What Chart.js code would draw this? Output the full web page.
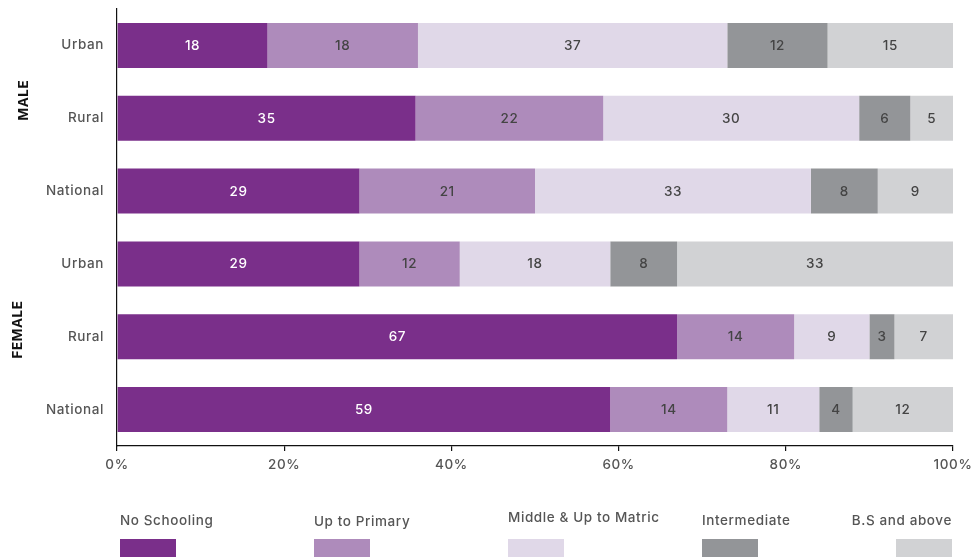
<!DOCTYPE html>
<html>
<head>
<meta charset="utf-8">
<style>
  html, body { margin: 0; padding: 0; background: #ffffff; }
  #wrap { width: 975px; height: 560px; position: relative; }
</style>
<script src="https://cdn.jsdelivr.net/npm/chart.js@4/dist/chart.umd.min.js"></script>
</head>
<body>
<div id="wrap"><canvas id="chart" width="975" height="560"></canvas></div>
<script>
// Rows, top to bottom
const categories = ['Urban', 'Rural', 'National', 'Urban', 'Rural', 'National'];
const groups = [
  { name: 'MALE', from: 0, to: 2 },
  { name: 'FEMALE', from: 3, to: 5 }
];

// Education level shares (%) per row
const seriesNames = ['No Schooling', 'Up to Primary', 'Middle & Up to Matric', 'Intermediate', 'B.S and above'];
const noSchooling   = [18, 35, 29, 29, 67, 59];
const upToPrimary   = [18, 22, 21, 12, 14, 14];
const middleMatric  = [37, 30, 33, 18,  9, 11];
const intermediate  = [12,  6,  8,  8,  3,  4];
const bsAndAbove    = [15,  5,  9, 33,  7, 12];
const xTicks = [0, 20, 40, 60, 80, 100];

const colors = ['#7a2f8a', '#ae8bbb', '#e0d8e8', '#939598', '#d1d2d4'];
const labelColors = ['#ffffff', '#444444', '#444444', '#444444', '#444444'];
const FONT = "Inter, 'Open Sans', sans-serif";
const TRACKING = '0.6px';

const raw = [noSchooling, upToPrimary, middleMatric, intermediate, bsAndAbove];
// each row is stacked to a full 100%
const rowTotals = categories.map((_, i) => raw.reduce((s, arr) => s + arr[i], 0));

const datasets = raw.map((arr, k) => ({
  label: seriesNames[k],
  data: arr.map((v, i) => v / rowTotals[i] * 100),
  rawValues: arr,
  backgroundColor: colors[k],
  borderWidth: 0,
  categoryPercentage: 0.618,
  barPercentage: 1.0,
  labelColor: labelColors[k]
}));

// slightly wider letter spacing for all canvas text
const tracking = {
  id: 'tracking',
  beforeDraw(chart) { chart.ctx.letterSpacing = TRACKING; }
};

// value labels inside each segment
const valueLabels = {
  id: 'valueLabels',
  afterDatasetsDraw(chart) {
    const ctx = chart.ctx;
    ctx.save();
    ctx.letterSpacing = TRACKING;
    ctx.font = '500 13.5px ' + FONT;
    ctx.textAlign = 'center';
    ctx.textBaseline = 'middle';
    chart.data.datasets.forEach((ds, k) => {
      const meta = chart.getDatasetMeta(k);
      meta.data.forEach((bar, i) => {
        const cx = (bar.x + bar.base) / 2;
        ctx.fillStyle = ds.labelColor;
        ctx.fillText(String(ds.rawValues[i]), cx, bar.y + 0.5);
      });
    });
    ctx.restore();
  }
};

// rotated group titles and the legend underneath
const extras = {
  id: 'extras',
  afterDraw(chart) {
    const ctx = chart.ctx;
    const y = chart.scales.y;
    const area = chart.chartArea;
    ctx.save();
    ctx.letterSpacing = TRACKING;
    // group titles
    ctx.font = 'bold 13.5px ' + FONT;
    ctx.fillStyle = '#111111';
    ctx.textAlign = 'center';
    ctx.textBaseline = 'middle';
    const gx = [24, 18];
    const gpos = [0.75, 3.9];
    groups.forEach((g, gi) => {
      const py = y.getPixelForValue(gpos[gi]);
      ctx.save();
      ctx.translate(gx[gi], py);
      ctx.rotate(-Math.PI / 2);
      ctx.fillText(g.name, 0, 0);
      ctx.restore();
    });
    // legend
    const sw = 56, sh = 18;
    const step = (area.right - area.left - sw - 4) / (seriesNames.length - 1);
    ctx.font = '500 13.5px ' + FONT;
    ctx.textBaseline = 'middle';
    chart.data.datasets.forEach((ds, k) => {
      const x0 = area.left + 3 + k * step;
      ctx.fillStyle = ds.backgroundColor;
      ctx.fillRect(x0, 539, sw, sh);
      ctx.fillStyle = '#555555';
      const last = k === seriesNames.length - 1;
      ctx.textAlign = last ? 'right' : 'left';
      const ty = k === 2 ? 518 : (k === 1 ? 521.5 : 520.5);
      ctx.fillText(ds.label, last ? x0 + sw : x0, ty);
    });
    ctx.restore();
  }
};

new Chart(document.getElementById('chart'), {
  type: 'bar',
  data: { labels: categories, datasets },
  options: {
    indexAxis: 'y',
    responsive: false,
    animation: false,
    events: [],
    layout: { padding: { top: 9, right: 22, left: 0, bottom: 0 } },
    plugins: { legend: { display: false }, tooltip: { enabled: false } },
    scales: {
      x: {
        stacked: true,
        min: 0,
        max: 100,
        afterBuildTicks(scale) { scale.ticks = xTicks.map(v => ({ value: v })); },
        afterFit(scale) { scale.height = 114; scale.paddingLeft = 0; scale.paddingRight = 0; },
        border: { display: true, color: '#111111', width: 1.2 },
        grid: { drawOnChartArea: false, drawTicks: true, tickLength: 5, color: '#111111', lineWidth: 1.2 },
        ticks: {
          padding: 6,
          color: '#555555',
          font: { family: FONT, size: 13.5, weight: '500' },
          callback: v => v + '%'
        }
      },
      y: {
        stacked: true,
        afterFit(scale) { scale.width = 117; scale.paddingTop = 0; scale.paddingBottom = 0; },
        border: { display: true, color: '#111111', width: 1.2 },
        grid: { drawOnChartArea: false, drawTicks: false },
        ticks: {
          padding: 13,
          color: '#555555',
          font: { family: FONT, size: 13.5, weight: '500' }
        }
      }
    }
  },
  plugins: [tracking, valueLabels, extras]
});
</script>
</body>
</html>
